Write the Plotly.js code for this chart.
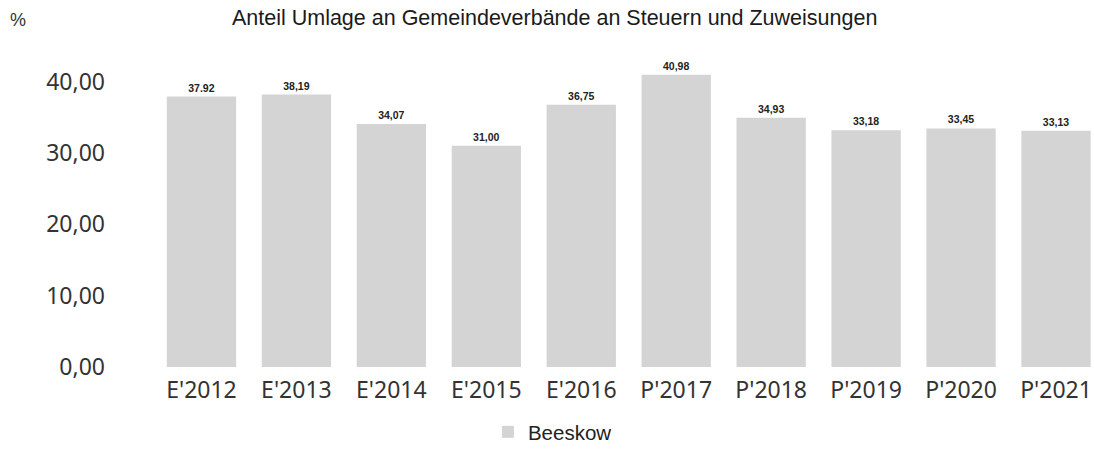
<!DOCTYPE html>
<html>
<head>
<meta charset="utf-8">
<script src="https://cdn.plot.ly/plotly-3.0.1.min.js"></script>
<style>html,body{margin:0;padding:0;background:#fff;}#chart{width:1094px;height:452px;}</style>
</head>
<body>
<div id="chart"></div>
<script>
const categories = ["E'2012", "E'2013", "E'2014", "E'2015", "E'2016", "P'2017", "P'2018", "P'2019", "P'2020", "P'2021"];
const values = [37.92, 38.19, 34.07, 31.00, 36.75, 40.98, 34.93, 33.18, 33.45, 33.13];
const valueLabels = ["37.92", "38,19", "34,07", "31,00", "36,75", "40,98", "34,93", "33,18", "33,45", "33,13"];
const seriesName = "Beeskow";
const yTicks = [0, 10, 20, 30, 40];

const trace = {
  type: 'bar',
  x: categories,
  y: values,
  name: seriesName,
  text: valueLabels,
  texttemplate: '%{text}',
  textposition: 'outside',
  cliponaxis: false,
  textfont: {family: 'Liberation Sans, Arial, sans-serif', size: 10.5, color: '#222', weight: 'bold'},
  marker: {color: '#d4d4d4', line: {width: 0}},
  showlegend: true,
  hoverinfo: 'none'
};

const layout = {
  width: 1094,
  height: 452,
  margin: {l: 154, r: 0, t: 46, b: 85, pad: 0},
  paper_bgcolor: '#ffffff',
  plot_bgcolor: '#ffffff',
  separators: ',.',
  bargap: 0.27,
  title: {
    text: 'Anteil Umlage an Gemeindeverbände an Steuern und Zuweisungen',
    font: {family: 'Liberation Sans, Arial, sans-serif', size: 21.5, color: '#1a1a1a'},
    x: 0.507, xref: 'container', xanchor: 'center',
    y: 0.962, yref: 'container', yanchor: 'middle'
  },
  xaxis: {
    type: 'category',
    range: [-0.5, 9.40],
    showgrid: false, zeroline: false, showline: false,
    ticks: '',
    tickfont: {family: 'Noto Sans, sans-serif', size: 23, color: '#333'},
    ticklabelstandoff: 7,
    fixedrange: true
  },
  yaxis: {
    range: [0, 45],
    tickvals: yTicks,
    tickformat: '.2f',
    showgrid: false, zeroline: false, showline: false,
    ticks: '',
    tickfont: {family: 'Noto Sans, sans-serif', size: 23, color: '#333'},
    ticklabelstandoff: 48,
    fixedrange: true
  },
  legend: {
    orientation: 'h',
    xref: 'container', yref: 'container',
    x: 0.446, xanchor: 'left',
    y: -0.014, yanchor: 'bottom',
    font: {family: 'Liberation Sans, Arial, sans-serif', size: 20.5, color: '#222'},
    bgcolor: 'rgba(0,0,0,0)'
  },
  annotations: [{
    text: '%',
    xref: 'paper', yref: 'paper',
    x: -0.155, xanchor: 'left',
    y: 1.081, yanchor: 'middle',
    showarrow: false,
    font: {family: 'Liberation Sans, Arial, sans-serif', size: 18, color: '#333'}
  }]
};

Plotly.newPlot('chart', [trace], layout, {displayModeBar: false, staticPlot: true});
</script>
</body>
</html>
